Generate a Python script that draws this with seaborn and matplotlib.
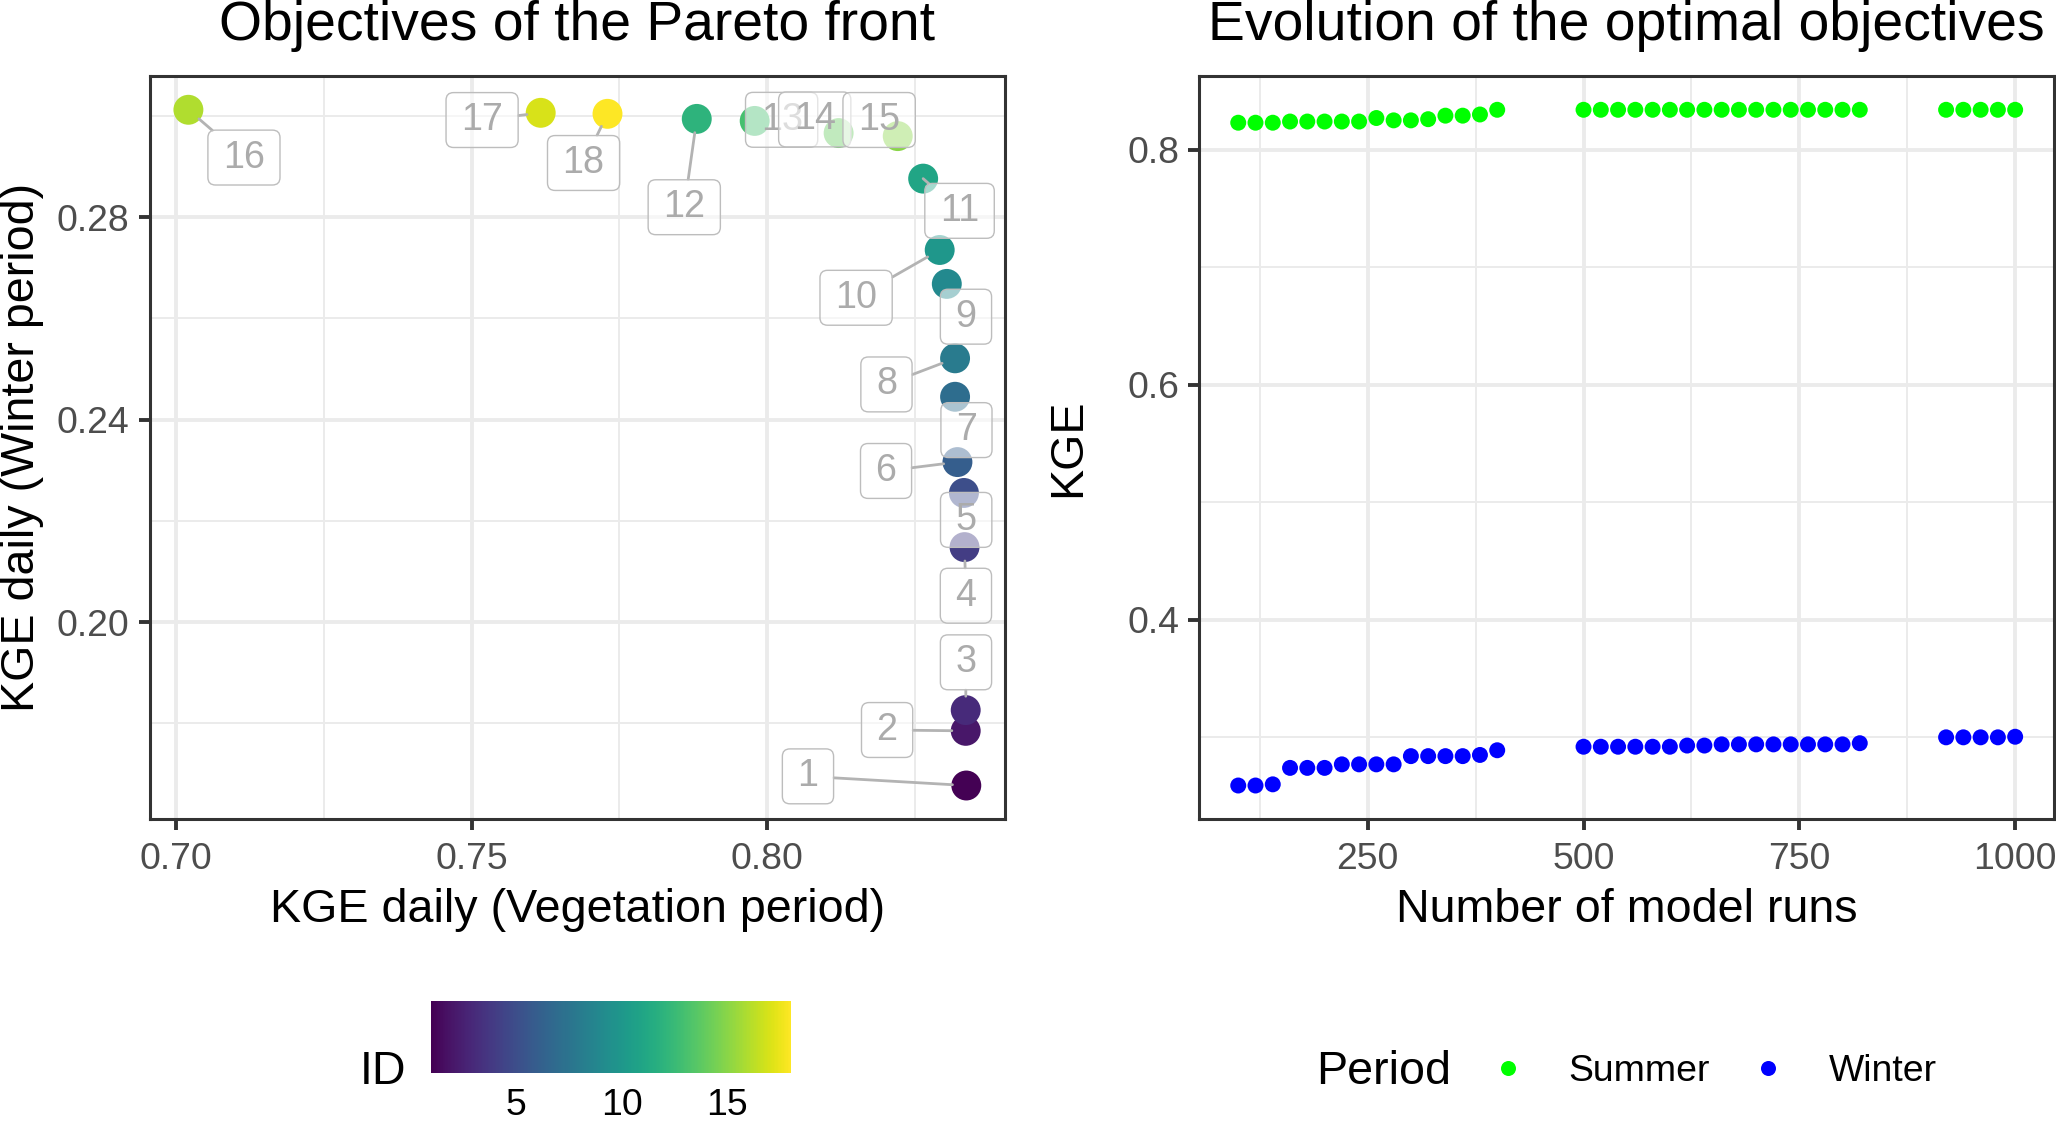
import numpy as np
import pandas as pd
import matplotlib as mpl
import matplotlib.pyplot as plt
import seaborn as sns
from matplotlib.lines import Line2D
from matplotlib.patches import BoxStyle
from matplotlib.ticker import MultipleLocator, FormatStrFormatter

# --- left panel: objectives of the pareto front ---
ids = [1, 2, 3, 4, 5, 6, 7, 8, 9, 10, 11, 12, 13, 14, 15, 16, 17, 18]
kge_veg = [0.8337, 0.8336, 0.8336, 0.8334, 0.8333, 0.8322, 0.8318, 0.8318, 0.8304,
           0.8292, 0.8264, 0.7881, 0.7979, 0.8121, 0.8221, 0.7021, 0.7617, 0.7730]
kge_win = [0.1677, 0.1785, 0.1826, 0.2148, 0.2255, 0.2316, 0.2445, 0.2521, 0.2668,
           0.2735, 0.2876, 0.2994, 0.2990, 0.2966, 0.2960, 0.3012, 0.3006, 0.3004]
id_ticks = [5, 10, 15]

# where the repelled labels sit relative to their point (points)
label_offsets = [(-57.0, 3.3), (-28.3, 0.3), (0.1, 17.2), (0.5, -17.5), (0.8, -9.7),
                 (-25.7, -3.2), (4.1, -12.0), (-24.7, -9.4), (6.9, -11.8), (-30.1, -17.2),
                 (13.1, -11.6), (-4.5, -31.8), (9.7, 0.4), (-8.6, 4.9), (-6.7, 5.8),
                 (20.0, -17.2), (-21.1, -2.6), (-8.6, -17.7)]

# --- right panel: evolution of the optimal objectives ---
n_runs = [100, 120, 140, 160, 180, 200, 220, 240, 260, 280, 300, 320, 340, 360, 380, 400,
          500, 520, 540, 560, 580, 600, 620, 640, 660, 680, 700, 720, 740, 760, 780, 800, 820,
          920, 940, 960, 980, 1000]
kge_summer = [0.823, 0.823, 0.823, 0.824, 0.824, 0.824, 0.824, 0.824, 0.827, 0.825, 0.825,
              0.826, 0.829, 0.829, 0.830, 0.834,
              0.834, 0.834, 0.834, 0.834, 0.834, 0.834, 0.834, 0.834, 0.834, 0.834, 0.834,
              0.834, 0.834, 0.834, 0.834, 0.834, 0.834,
              0.834, 0.834, 0.834, 0.834, 0.834]
kge_winter = [0.259, 0.259, 0.260, 0.274, 0.274, 0.274, 0.277, 0.277, 0.277, 0.277, 0.284,
              0.284, 0.284, 0.284, 0.285, 0.289,
              0.292, 0.292, 0.292, 0.292, 0.292, 0.292, 0.293, 0.293, 0.294, 0.294, 0.294,
              0.294, 0.294, 0.294, 0.294, 0.294, 0.295,
              0.300, 0.300, 0.300, 0.300, 0.3005]
periods = ['Summer', 'Winter']
period_colors = {'Summer': '#00FF00', 'Winter': '#0000FF'}

front = pd.DataFrame({'ID': ids, 'veg': kge_veg, 'win': kge_win})
evo = pd.DataFrame({
    'runs': n_runs + n_runs,
    'KGE': kge_summer + kge_winter,
    'Period': ['Summer'] * len(n_runs) + ['Winter'] * len(n_runs),
})

sns.set_theme(style='white')
plt.rcParams['font.family'] = ['Liberation Sans', 'DejaVu Sans']

# ggplot-like sizes
BASE = 16.8
TITLE, SMALL = 19.9, BASE * 0.8

W, H, DPI = 2056, 1124, 200
fig = plt.figure(figsize=(W / DPI, H / DPI), dpi=DPI)
ax1 = fig.add_axes([149.5 / W, 1 - 819.3 / H, 855.7 / W, 743.3 / H])
ax2 = fig.add_axes([1199.4 / W, 1 - 819.3 / H, 854.6 / W, 743.3 / H])


def bw_style(ax, major_x, major_y, fmt_x, fmt_y):
    # roughly ggplot2 theme_bw
    ax.xaxis.set_major_locator(MultipleLocator(major_x))
    ax.xaxis.set_minor_locator(MultipleLocator(major_x / 2))
    ax.yaxis.set_major_locator(MultipleLocator(major_y))
    ax.yaxis.set_minor_locator(MultipleLocator(major_y / 2))
    if fmt_x:
        ax.xaxis.set_major_formatter(FormatStrFormatter(fmt_x))
    if fmt_y:
        ax.yaxis.set_major_formatter(FormatStrFormatter(fmt_y))
    ax.grid(which='major', color='#EBEBEB', lw=1.4)
    ax.grid(which='minor', color='#EBEBEB', lw=0.7)
    ax.set_axisbelow(True)
    for sp in ax.spines.values():
        sp.set_visible(True)
        sp.set_color('#333333')
        sp.set_linewidth(1.1)
    ax.tick_params(which='major', bottom=True, left=True, length=4, width=1.4,
                   color='#333333', labelcolor='#4D4D4D', labelsize=SMALL, direction='out')
    ax.tick_params(which='minor', length=0)
    ax.tick_params(axis='x', pad=4.0)
    ax.tick_params(axis='y', pad=3.2)
    ax.margins(0.05)


def label_box(x0, y0, width, height, mutation_size):
    # wider than tall padding, like geom_label
    padx, pady = 0.40 * mutation_size, 0.25 * mutation_size
    return BoxStyle.Round(pad=0, rounding_size=0.2)(
        x0 - padx, y0 - pady, width + 2 * padx, height + 2 * pady, mutation_size)


# left panel
sns.scatterplot(data=front, x='veg', y='win', hue='ID', palette='viridis',
                hue_norm=(min(ids), max(ids)), s=116, linewidth=0, legend=False, ax=ax1)
bw_style(ax1, 0.05, 0.04, '%.2f', '%.2f')

for x, y, lab, (dx, dy) in zip(kge_veg, kge_win, ids, label_offsets):
    seg = dict(arrowstyle='-', color='#B3B3B3', lw=1.0, shrinkA=0, shrinkB=5)
    ax1.annotate(str(lab), xy=(x, y), xytext=(dx, dy), textcoords='offset points',
                 ha='center', va='center', fontsize=13.6, color='#ABABAB', zorder=4,
                 bbox=dict(boxstyle=label_box, fc=(1, 1, 1, 0.6), ec='#BDBDBD', lw=0.5),
                 arrowprops=seg if np.hypot(dx, dy) > 15 else None)

ax1.set_title('Objectives of the Pareto front', fontsize=TITLE, pad=13, color='black')
ax1.set_xlabel('KGE daily (Vegetation period)', fontsize=BASE, color='black')
ax1.set_ylabel('KGE daily (Winter period)', fontsize=BASE, color='black')
ax1.xaxis.set_label_coords(0.5, -0.1218)
ax1.xaxis.label.set_va('center')
ax1.yaxis.set_label_coords(-0.1494, 0.5)
ax1.yaxis.label.set_va('center')

# right panel
sns.scatterplot(data=evo, x='runs', y='KGE', hue='Period', palette=period_colors,
                s=33, linewidth=0, legend=False, ax=ax2)
bw_style(ax2, 250, 0.2, None, '%.1f')
ax2.set_title('Evolution of the optimal objectives', fontsize=TITLE, pad=13, color='black')
ax2.set_xlabel('Number of model runs', fontsize=BASE, color='black')
ax2.set_ylabel('KGE', fontsize=BASE, color='black')
ax2.xaxis.set_label_coords(0.5, -0.1218)
ax2.xaxis.label.set_va('center')
ax2.yaxis.set_label_coords(-0.1534, 0.5)
ax2.yaxis.label.set_va('center')

# colourbar legend for ID
cax = fig.add_axes([431.4 / W, 1 - 1072.7 / H, 359.3 / W, 71.7 / H])
sm = mpl.cm.ScalarMappable(norm=mpl.colors.Normalize(min(ids), max(ids)), cmap='viridis')
cb = fig.colorbar(sm, cax=cax, orientation='horizontal', ticks=id_ticks)
cb.outline.set_visible(False)
cax.tick_params(axis='x', direction='in', length=5.2, width=0.8, color='white',
                top=True, bottom=True, labeltop=False, labelbottom=True,
                labelsize=SMALL, labelcolor='black', pad=5.5)
leg_y = 1 - 1071.5 / H
fig.text(406.5 / W, leg_y, 'ID', ha='right', va='center', fontsize=BASE, color='black')

# legend for Period
fig.text(1451.6 / W, leg_y, 'Period', ha='right', va='center', fontsize=BASE, color='black')
handles = [Line2D([], [], marker='o', ls='', color=period_colors[p], markersize=5.4,
                  markeredgewidth=0) for p in periods]
fig.legend(handles, periods, loc='center left', bbox_to_anchor=(1470.8 / W, leg_y),
           ncol=2, frameon=False, fontsize=SMALL, handlelength=2, handletextpad=0.62,
           columnspacing=0.56, borderpad=0, borderaxespad=0, labelcolor='black')

fig.savefig('out.png', dpi=DPI)
